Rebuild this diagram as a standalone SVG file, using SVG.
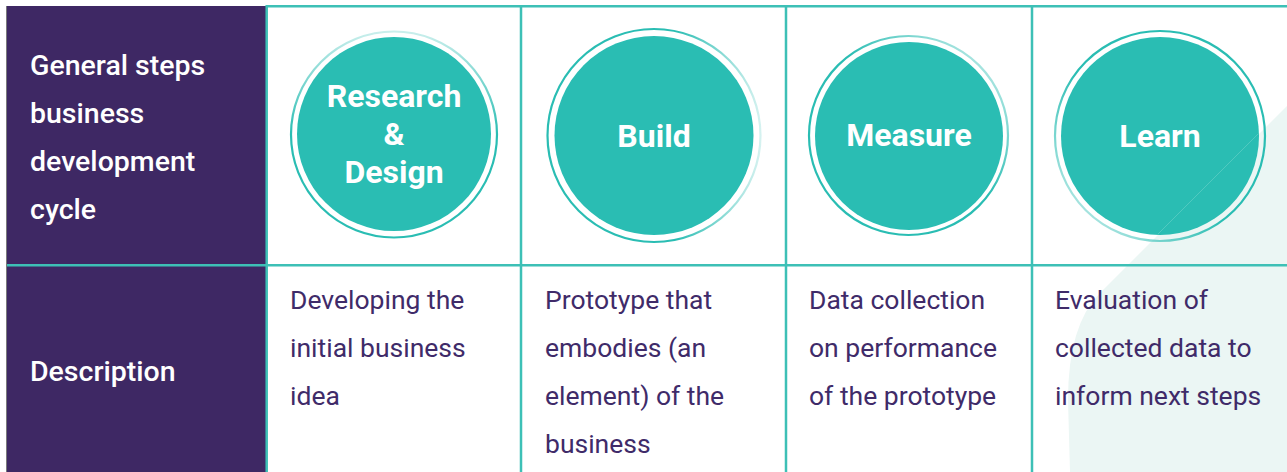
<svg xmlns="http://www.w3.org/2000/svg" width="1287" height="472" viewBox="0 0 1287 472">
<defs>
<style>
.grid{stroke:#3DC0B6;stroke-width:2.5;fill:none}
.head{font-family:Roboto,"Liberation Sans",sans-serif;font-weight:500;font-size:28.5px;fill:#ffffff}
.desc{font-family:Roboto,"Liberation Sans",sans-serif;font-weight:400;font-size:26.5px;fill:#3F2B69}
.lab{font-family:Roboto,"Liberation Sans",sans-serif;font-weight:700;font-size:32px;fill:#ffffff;text-anchor:middle}
.fill{fill:#2ABDB3}
.ring{fill:none;stroke-width:2.2}
</style>
<linearGradient id="gR" x1="0" y1="0" x2="0" y2="1"><stop offset="0" stop-color="#2ABDB3" stop-opacity="0.25"/><stop offset="0.5" stop-color="#2ABDB3"/><stop offset="1" stop-color="#2ABDB3"/></linearGradient>
<linearGradient id="gB" x1="0" y1="0" x2="1" y2="0"><stop offset="0" stop-color="#2ABDB3"/><stop offset="0.6" stop-color="#2ABDB3"/><stop offset="1" stop-color="#2ABDB3" stop-opacity="0.2"/></linearGradient>
<linearGradient id="gM" x1="0" y1="1" x2="1" y2="0"><stop offset="0" stop-color="#2ABDB3"/><stop offset="0.55" stop-color="#2ABDB3"/><stop offset="1" stop-color="#2ABDB3" stop-opacity="0.15"/></linearGradient>
<linearGradient id="gL" x1="1" y1="0" x2="0" y2="1"><stop offset="0" stop-color="#2ABDB3"/><stop offset="0.55" stop-color="#2ABDB3"/><stop offset="1" stop-color="#2ABDB3" stop-opacity="0.15"/></linearGradient>
</defs>
<rect x="0" y="0" width="1287" height="472" fill="#ffffff"/>
<path id="bg-shape" d="M1300 93 L1100 293 Q1068 325 1068 400 L1070 472 H1287 Z" fill="#EBF6F4"/>
<g id="header-left">
<rect x="7" y="6" width="259.5" height="466" fill="#3E2864"/>
<line x1="6.5" y1="6" x2="6.5" y2="472" stroke="#7a7a7a" stroke-width="1"/>
<text class="head" x="30" y="75">General steps</text>
<text class="head" x="30" y="123">business</text>
<text class="head" x="30" y="171">development</text>
<text class="head" x="30" y="219">cycle</text>
<text class="head" x="30" y="381">Description</text>
</g>
<g id="connectors">
<line class="grid" x1="266" y1="6.2" x2="1287" y2="6.2"/>
<line class="grid" x1="7" y1="265.3" x2="1287" y2="265.3"/>
<line class="grid" x1="266.7" y1="5" x2="266.7" y2="472"/>
<line class="grid" x1="521" y1="5" x2="521" y2="472"/>
<line class="grid" x1="786" y1="5" x2="786" y2="472"/>
<line class="grid" x1="1032" y1="5" x2="1032" y2="472"/>
</g>
<g id="research">
<circle cx="394" cy="134.5" r="103" class="ring" stroke="url(#gR)"/>
<circle cx="394" cy="134" r="97" class="fill"/>
<text class="lab" x="394" y="107">Research</text>
<text class="lab" x="394" y="145">&amp;</text>
<text class="lab" x="394" y="183">Design</text>
</g>
<g id="build">
<circle cx="654" cy="135.5" r="106.5" class="ring" stroke="url(#gB)"/>
<circle cx="654" cy="135.5" r="99.5" class="fill"/>
<text class="lab" x="654" y="147">Build</text>
</g>
<g id="measure">
<circle cx="908.5" cy="135.5" r="99.5" class="ring" stroke="url(#gM)"/>
<circle cx="909" cy="136" r="94" class="fill"/>
<text class="lab" x="909" y="146">Measure</text>
</g>
<g id="learn">
<circle cx="1160" cy="136" r="105" class="ring" stroke="url(#gL)"/>
<circle cx="1160" cy="136" r="99" class="fill"/>
<line x1="1258" y1="134" x2="1158" y2="234" stroke="#ffffff" stroke-opacity="0.18" stroke-width="1"/>
<text class="lab" x="1160" y="147">Learn</text>
</g>
<g id="desc-research">
<text class="desc" x="290" y="309">Developing the</text>
<text class="desc" x="290" y="357">initial business</text>
<text class="desc" x="290" y="405">idea</text>
</g>
<g id="desc-build">
<text class="desc" x="545" y="309">Prototype that</text>
<text class="desc" x="545" y="357">embodies (an</text>
<text class="desc" x="545" y="405">element) of the</text>
<text class="desc" x="545" y="453">business</text>
</g>
<g id="desc-measure">
<text class="desc" x="809" y="309">Data collection</text>
<text class="desc" x="809" y="357">on performance</text>
<text class="desc" x="809" y="405">of the prototype</text>
</g>
<g id="desc-learn">
<text class="desc" x="1055" y="309">Evaluation of</text>
<text class="desc" x="1055" y="357">collected data to</text>
<text class="desc" x="1055" y="405">inform next steps</text>
</g>
</svg>
